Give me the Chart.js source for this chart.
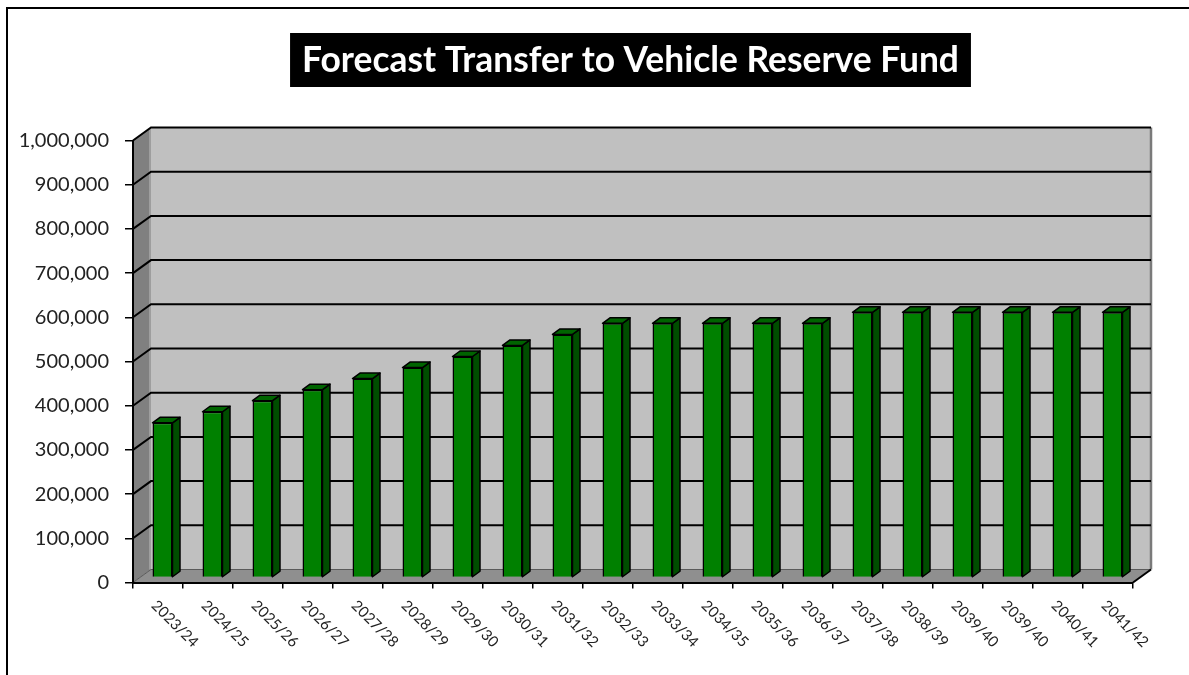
<!DOCTYPE html>
<html><head><meta charset="utf-8">
<script src="https://cdn.jsdelivr.net/npm/chart.js@4.4.1/dist/chart.umd.min.js"></script>
<style>html,body{margin:0;padding:0;background:#fff;overflow:hidden;} canvas{display:block;}</style>
</head><body>
<canvas id="c" width="1189" height="675"></canvas>
<script>
// ---- data ----
const chartTitle = 'Forecast Transfer to Vehicle Reserve Fund';
const categories = ['2023/24','2024/25','2025/26','2026/27','2027/28','2028/29','2029/30','2030/31','2031/32','2032/33',
                    '2033/34','2034/35','2035/36','2036/37','2037/38','2038/39','2039/40','2039/40','2040/41','2041/42'];
const transfers = [350000,375000,400000,425000,450000,475000,500000,525000,550000,575000,
                   575000,575000,575000,575000,600000,600000,600000,600000,600000,600000];
const yTickValues = [0,100000,200000,300000,400000,500000,600000,700000,800000,900000,1000000];

// ---- styling / geometry ----
const DX = 18, DY = -13;          // wall depth offset
const BAR_SHIFT_X = 4.5, BAR_SHIFT_Y = -5; // bars sit mid-depth
const BDX = 7.5, BDY = -5.5;      // bar depth
const AREA = {left:133, right:1133, top:140.5, bottom:582.5};
const W = 1189, H = 675;

const walls = {
  id:'walls',
  beforeDraw(chart){
    const ctx = chart.ctx, y = chart.scales.y, ca = chart.chartArea;
    ctx.save();
    ctx.fillStyle = '#fff'; ctx.fillRect(0,0,W,H);
    // outer frame
    ctx.strokeStyle = '#000'; ctx.lineWidth = 2;
    ctx.beginPath(); ctx.moveTo(7,H); ctx.lineTo(7,8); ctx.lineTo(W,8); ctx.stroke();
    // back wall
    ctx.fillStyle = '#c0c0c0';
    ctx.fillRect(ca.left+DX, ca.top+DY, ca.right-ca.left, ca.bottom-ca.top);
    // side wall
    ctx.fillStyle = '#808080';
    ctx.beginPath();
    ctx.moveTo(ca.left, ca.top); ctx.lineTo(ca.left+DX, ca.top+DY);
    ctx.lineTo(ca.left+DX, ca.bottom+DY); ctx.lineTo(ca.left, ca.bottom); ctx.closePath(); ctx.fill();
    ctx.strokeStyle = '#a8a8a8'; ctx.lineWidth = 1.5;
    ctx.beginPath(); ctx.moveTo(ca.left+DX-1, ca.top+DY+1); ctx.lineTo(ca.left+DX-1, ca.bottom+DY); ctx.stroke();
    // floor
    ctx.fillStyle = '#8f8f8f';
    ctx.beginPath();
    ctx.moveTo(ca.left, ca.bottom); ctx.lineTo(ca.right, ca.bottom);
    ctx.lineTo(ca.right+DX, ca.bottom+DY); ctx.lineTo(ca.left+DX, ca.bottom+DY); ctx.closePath(); ctx.fill();
    // right edge of back wall
    ctx.strokeStyle = '#7a7a7a'; ctx.lineWidth = 2.5;
    ctx.beginPath(); ctx.moveTo(ca.right+DX, ca.top+DY); ctx.lineTo(ca.right+DX, ca.bottom+DY); ctx.stroke();
    // gridlines
    yTickValues.forEach(v => {
      const py = y.getPixelForValue(v);
      ctx.strokeStyle = v === 0 ? '#5a5a5a' : '#000';
      ctx.lineWidth = v === 0 ? 1 : 2;
      ctx.beginPath();
      ctx.moveTo(ca.left, py); ctx.lineTo(ca.left+DX, py+DY); ctx.lineTo(ca.right+DX, py+DY);
      ctx.stroke();
    });
    // floor right diagonal
    ctx.strokeStyle = '#000'; ctx.lineWidth = 2;
    ctx.beginPath(); ctx.moveTo(ca.right, ca.bottom); ctx.lineTo(ca.right+DX, ca.bottom+DY); ctx.stroke();
    ctx.restore();
  },
  beforeDatasetsDraw(chart){
    chart.ctx.save();
    chart.ctx.translate(BAR_SHIFT_X, BAR_SHIFT_Y);
  },
  afterDatasetsDraw(chart){
    const ctx = chart.ctx;
    const meta = chart.getDatasetMeta(0);
    ctx.lineWidth = 1.5; ctx.strokeStyle = '#000'; ctx.lineJoin = 'round';
    meta.data.forEach(b => {
      const l = b.x - b.width/2, r = b.x + b.width/2, t = b.y, bs = b.base;
      // side face
      ctx.fillStyle = '#004d00';
      ctx.beginPath();
      ctx.moveTo(r, t); ctx.lineTo(r+BDX, t+BDY); ctx.lineTo(r+BDX, bs+BDY); ctx.lineTo(r, bs); ctx.closePath();
      ctx.fill(); ctx.stroke();
      // top face
      ctx.fillStyle = '#006400';
      ctx.beginPath();
      ctx.moveTo(l, t); ctx.lineTo(l+BDX, t+BDY); ctx.lineTo(r+BDX, t+BDY); ctx.lineTo(r, t); ctx.closePath();
      ctx.fill(); ctx.stroke();
    });
    ctx.restore();
  },
  afterDraw(chart){
    const ctx = chart.ctx, x = chart.scales.x;
    ctx.save();
    // x labels, rotated downward
    ctx.fillStyle = '#222';
    ctx.font = '15px Lato';
    ctx.textAlign = 'left'; ctx.textBaseline = 'middle';
    x.getLabels().forEach((lab, i) => {
      const px = x.getPixelForValue(i);
      ctx.save();
      ctx.translate(px - 4, 603);
      ctx.rotate(Math.PI/4);
      ctx.fillText(lab, 0, 0);
      ctx.restore();
    });
    // title box
    let size = 32;
    ctx.font = 'bold ' + size + 'px Lato';
    const w0 = ctx.measureText(chartTitle).width;
    size = size * 657 / w0;
    ctx.font = 'bold ' + size.toFixed(2) + 'px Lato';
    const tw = ctx.measureText(chartTitle).width;
    const cx = 630.5;
    ctx.fillStyle = '#000';
    ctx.fillRect(cx - tw/2 - 12, 33, tw + 24, 54);
    ctx.fillStyle = '#fff';
    ctx.textAlign = 'center'; ctx.textBaseline = 'middle';
    ctx.fillText(chartTitle, cx, 61);
    ctx.restore();
  }
};

new Chart(document.getElementById('c'), {
  type:'bar',
  data:{
    labels: categories,
    datasets:[{
      data: transfers,
      backgroundColor:'#008000',
      borderColor:'#000',
      borderWidth:1.5,
      barPercentage:0.4,
      categoryPercentage:1.0,
      clip:false
    }]
  },
  options:{
    responsive:false,
    animation:false,
    devicePixelRatio:1,
    layout:{padding:{left:0, right:W-AREA.right, top:AREA.top, bottom:0}},
    plugins:{legend:{display:false}, title:{display:false}, tooltip:{enabled:false}},
    scales:{
      x:{
        afterFit(s){ s.height = H - AREA.bottom; },
        grid:{drawOnChartArea:false, drawTicks:true, tickLength:6, color:'#000', lineWidth:1.5},
        border:{display:true, color:'#000', width:2},
        ticks:{display:false}
      },
      y:{
        min:0, max:1000000,
        afterFit(s){ s.width = AREA.left; },
        afterBuildTicks(s){ s.ticks = yTickValues.map(v => ({value:v})); },
        grid:{drawOnChartArea:false, drawTicks:true, tickLength:8, color:'#000', lineWidth:1.5},
        border:{display:true, color:'#000', width:2},
        ticks:{
          padding:16,
          color:'#222',
          font:{family:'Lato', size:20},
          callback:(v) => Number(v).toLocaleString('en-US')
        }
      }
    }
  },
  plugins:[walls]
});
</script>
</body></html>
